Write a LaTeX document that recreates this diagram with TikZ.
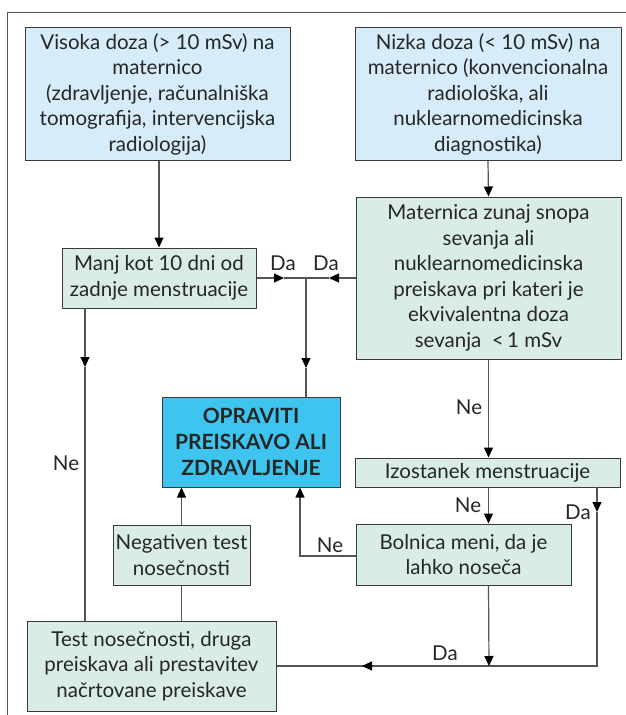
\documentclass[tikz,border=0pt]{standalone}
\usepackage{fontspec}
\setmainfont{Lato}
\usetikzlibrary{arrows.meta}
\definecolor{bluebox}{HTML}{D6ECF8}
\definecolor{greenbox}{HTML}{D9ECE6}
\definecolor{cyanbox}{HTML}{3DC5F0}
\definecolor{linegray}{HTML}{555555}
\definecolor{bordergray}{HTML}{3A3A3A}
\tikzset{
  box/.style={draw=bordergray, line width=1pt, align=center, inner sep=0pt,
    font=\fontsize{20.5}{25.5}\selectfont, text=black!85},
  bluestyle/.style={box, fill=bluebox},
  greenstyle/.style={box, fill=greenbox},
  mainstyle/.style={box, fill=cyanbox, font=\fontsize{21}{26}\selectfont\bfseries},
  conn/.style={draw=linegray, line width=1.2pt},
  arr/.style={conn, -{Triangle[length=10pt,width=9pt,fill=black,color=black]}},
  lbl/.style={font=\fontsize{20.5}{22}\selectfont, text=black!85, inner sep=0pt}
}
\begin{document}
\begin{tikzpicture}[x=1pt,y=-1pt]
\useasboundingbox (0,0) rectangle (626,715);
\fill[white] (0,0) rectangle (626,715);
% frame
\draw[linegray, line width=1pt] (7,715) -- (7,12) -- (626,12);

% boxes
\node[bluestyle, minimum width=265pt, minimum height=133pt] (visoka) at (157.5,94)
  {Visoka doza (> 10 mSv) na\\ maternico\\ (zdravljenje, računalniška\\ tomografija, intervencijska\\ radiologija)};
\node[bluestyle, minimum width=266pt, minimum height=133pt] (nizka) at (488,94)
  {Nizka doza (< 10 mSv) na\\ maternico (konvencionalna\\ radiološka, ali\\ nuklearnomedicinska\\ diagnostika)};
\node[greenstyle, minimum width=265pt, minimum height=162pt] (materica) at (488.5,278)
  {Maternica zunaj snopa\\ sevanja ali\\ nuklearnomedicinska\\ preiskava pri kateri je\\ ekvivalentna doza\\ sevanja \ <\,1 mSv};
\node[greenstyle, minimum width=194pt, minimum height=60pt] (manj) at (159,278)
  {Manj kot 10 dni od\\ zadnje menstruacije};
\node[mainstyle, minimum width=178pt, minimum height=90pt] (opraviti) at (251,442)
  {OPRAVITI\\ PREISKAVO ALI\\ ZDRAVLJENJE};
\node[greenstyle, minimum width=265pt, minimum height=29pt] (izostanek) at (487.5,472.5)
  {Izostanek menstruacije};
\node[greenstyle, minimum width=215pt, minimum height=61pt] (bolnica) at (463.5,554.5)
  {Bolnica meni, da je\\ lahko noseča};
\node[greenstyle, minimum width=137pt, minimum height=60pt] (negativen) at (181.5,555)
  {Negativen test\\ nosečnosti};
\node[greenstyle, minimum width=249pt, minimum height=90pt] (test) at (151.5,666)
  {Test nosečnosti, druga\\ preiskava ali prestavitev\\ načrtovane preiskave};

% coordinates
\coordinate (J) at (306,278);
\coordinate (tipA) at (284,278);
\coordinate (tipB) at (329,278);
\coordinate (tipC) at (306,368);
\coordinate (mL) at (85,308);
\coordinate (tipD) at (85,367);
\coordinate (R0) at (597,487);
\coordinate (tipE) at (597,512);
\coordinate (R1) at (597,666);
\coordinate (tipF) at (362,666);
\coordinate (B0) at (489,666);
\coordinate (nb) at (300,556);

% connectors
\draw[arr] (visoka.south -| manj.north) -- (manj.north);
\draw[arr] (nizka.south) -- (materica.north);
\draw[arr] (manj.east) -- (tipA);
\draw[conn] (tipA) -- (J);
\draw[arr] (materica.west) -- (tipB);
\draw[conn] (tipB) -- (J);
\draw[arr] (J) -- (tipC);
\draw[conn] (tipC) -- (J |- opraviti.north);
\draw[arr] (mL) -- (tipD);
\draw[conn] (tipD) -- (mL |- test.north);
\draw[arr] (materica.south) -- (materica.south |- izostanek.north);
\draw[arr] (materica.south |- izostanek.south) -- (materica.south |- bolnica.north);
\draw[arr] (R0) -- (tipE);
\draw[conn] (tipE) -- (R1) -- (tipF);
\draw[arr] (R1) -- (tipF);
\draw[conn] (tipF) -- (test.east |- R1);
\draw[arr] (materica.south |- bolnica.south) -- (B0);
\draw[arr] (bolnica.west |- nb) -- (nb) -- (nb |- opraviti.south);
\draw[arr] (negativen.north) -- (negativen.north |- opraviti.south);
\draw[conn] (negativen.south) -- (negativen.south |- test.north);

% labels
\node[lbl] (da1) at (283,263) {Da};
\node[lbl] (da2) at (326,263) {Da};
\node[lbl] (ne1) at (66,463) {Ne};
\node[lbl] (ne2) at (469,407) {Ne};
\node[lbl] (ne3) at (468,505) {Ne};
\node[lbl] (da3) at (578,512) {Da};
\node[lbl] (ne4) at (330,545) {Ne};
\node[lbl] (da4) at (445,653) {Da};
\end{tikzpicture}
\end{document}
